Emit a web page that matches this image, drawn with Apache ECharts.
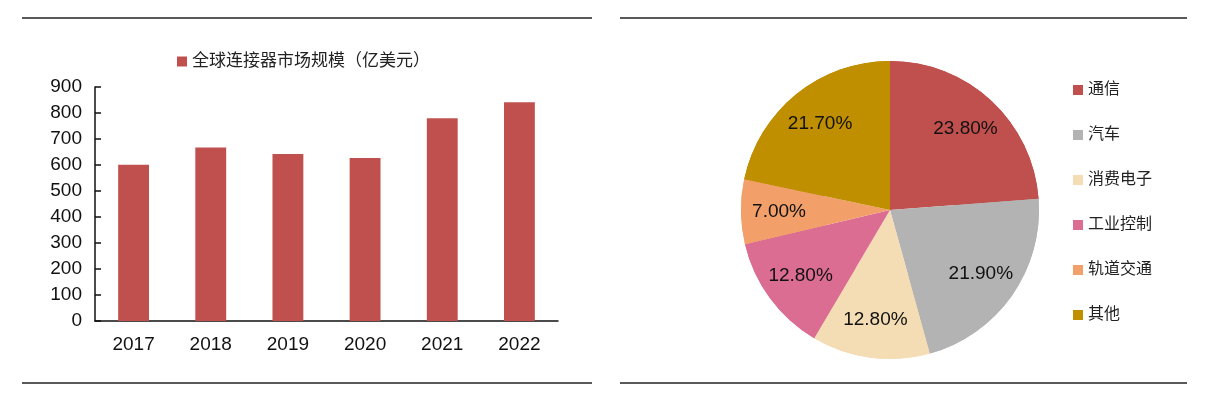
<!DOCTYPE html>
<html>
<head>
<meta charset="utf-8">
<script src="https://cdn.jsdelivr.net/npm/echarts@6/dist/echarts.min.js"></script>
<style>
  html, body { margin: 0; padding: 0; background: #fff; }
  #main { width: 1213px; height: 398px; }
</style>
</head>
<body>
<div id="main"></div>
<script>
// 左图：全球连接器市场规模
const years = ['2017', '2018', '2019', '2020', '2021', '2022'];
const marketSize = [601, 667, 642, 627, 780, 841];
const barName = '全球连接器市场规模（亿美元）';

// 右图：下游应用占比
const sectors = ['通信', '汽车', '消费电子', '工业控制', '轨道交通', '其他'];
const shares = [23.8, 21.9, 12.8, 12.8, 7.0, 21.7];
const sectorColors = ['#C0504D', '#B3B3B3', '#F4DDB4', '#DB6D92', '#F29F69', '#BF8F00'];

const font = "'Liberation Sans', 'Noto Sans CJK SC', sans-serif";

let pieData = sectors.map((s, i) => ({
  name: s,
  value: shares[i],
  itemStyle: {color: sectorColors[i]}
}));

let chart = echarts.init(document.getElementById('main'));

let option = {
  animation: false,
  textStyle: {fontFamily: font, color: '#111'},
  legend: [{
    data: [barName],
    left: 172,
    top: 48,
    itemWidth: 10,
    itemHeight: 10,
    icon: 'rect',
    textStyle: {fontSize: 17, color: '#222', fontFamily: font}
  }, {
    data: sectors,
    orient: 'vertical',
    left: 1068,
    top: 77,
    itemWidth: 10,
    itemHeight: 10,
    itemGap: 29,
    icon: 'rect',
    textStyle: {fontSize: 16, color: '#222', fontFamily: font}
  }],
  grid: {left: 95, right: 655, top: 87, bottom: 77},
  xAxis: {
    type: 'category',
    data: years,
    axisLine: {lineStyle: {color: '#111', width: 1.5}},
    axisTick: {inside: true, length: 6, lineStyle: {color: '#111', width: 1.5}},
    axisLabel: {fontSize: 19, color: '#111', margin: 14}
  },
  yAxis: {
    type: 'value',
    min: 0,
    max: 900,
    interval: 100,
    splitLine: {show: false},
    axisLine: {show: true, lineStyle: {color: '#111', width: 1.5}},
    axisTick: {show: true, inside: true, length: 6, lineStyle: {color: '#111', width: 1.5}},
    axisLabel: {fontSize: 19, color: '#111', margin: 13}
  },
  series: [{
    name: barName,
    type: 'bar',
    data: marketSize,
    barWidth: '40%',
    itemStyle: {color: '#C0504D'}
  }, {
    // 底层整圆
    type: 'pie',
    center: [890, 210],
    radius: 149,
    startAngle: 90,
    label: {show: false},
    labelLine: {show: false},
    data: pieData,
    silent: true
  }, {
    // 上层圆环，用来把标签放到靠外的位置
    type: 'pie',
    center: [890, 210],
    radius: [67, 149],
    startAngle: 90,
    label: {
      show: true,
      position: 'inside',
      fontSize: 19,
      color: '#111',
      fontFamily: font,
      formatter: p => p.value.toFixed(2) + '%'
    },
    labelLine: {show: false},
    data: pieData
  }],
  graphic: [
    {type: 'line', shape: {x1: 22, y1: 18, x2: 592, y2: 18}, style: {stroke: '#222', lineWidth: 1.5}},
    {type: 'line', shape: {x1: 22, y1: 383, x2: 592, y2: 383}, style: {stroke: '#222', lineWidth: 1.5}},
    {type: 'line', shape: {x1: 620, y1: 18, x2: 1187, y2: 18}, style: {stroke: '#222', lineWidth: 1.5}},
    {type: 'line', shape: {x1: 620, y1: 383, x2: 1187, y2: 383}, style: {stroke: '#222', lineWidth: 1.5}}
  ]
};

chart.setOption(option);
</script>
</body>
</html>
